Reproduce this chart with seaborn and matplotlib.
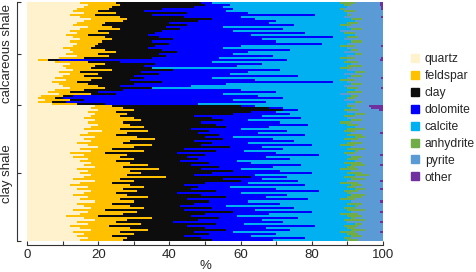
import numpy as np
import pandas as pd
import matplotlib
matplotlib.use("Agg")
import matplotlib.pyplot as plt
from matplotlib.lines import Line2D
import seaborn as sns

# right-hand edge of each mineral in every sample (cumulative %), top row first
# rows 0-50: calcareous shale, rows 51-117: clay shale
quartz_end = [
    15, 17, 16, 14, 13, 16, 12, 15, 18, 16,
    14, 13, 17, 15, 12, 14, 11, 13, 15, 12,
    14, 13, 10, 12, 13, 11, 14, 9, 3, 8,
    12, 10, 11, 13, 9, 12, 10, 8, 11, 7,
    9, 10, 12, 8, 6, 9, 4, 3, 5, 3, 7,
    19, 18, 20, 17, 19, 18, 16, 19, 17, 20,
    18, 16, 21, 17, 15, 19, 16, 18, 14, 17,
    20, 15, 18, 12, 16, 13, 17, 15, 18, 16,
    19, 14, 17, 15, 18, 16, 13, 19, 15, 12,
    17, 14, 18, 16, 13, 17, 15, 19, 14, 16,
    18, 13, 17, 15, 11, 16, 19, 14, 17, 12,
    15, 18, 13, 16, 14, 17, 15,
]
feldspar_end = [
    25, 26, 24, 23, 20, 25, 19, 26, 28, 27,
    22, 21, 24, 26, 20, 23, 17, 22, 24, 21,
    20, 19, 18, 22, 25, 20, 23, 16, 6, 17,
    22, 19, 18, 24, 15, 20, 16, 21, 18, 14,
    17, 20, 22, 16, 12, 18, 10, 8, 12, 7, 14,
    24, 27, 30, 25, 28, 26, 30, 32, 27, 29,
    33, 26, 34, 28, 25, 31, 36, 29, 27, 35,
    30, 24, 33, 22, 28, 26, 30, 25, 29, 34,
    27, 37, 29, 32, 28, 39, 26, 30, 24, 29,
    33, 27, 31, 25, 28, 34, 26, 30, 24, 29,
    33, 22, 31, 27, 20, 35, 28, 25, 32, 23,
    29, 34, 26, 30, 24, 28, 27,
]
clay_end = [
    49, 50, 47, 38, 33, 45, 35, 44, 52, 48,
    40, 45, 39, 43, 38, 36, 34, 37, 41, 35,
    40, 36, 34, 38, 42, 37, 39, 35, 9, 26,
    36, 33, 35, 41, 32, 37, 30, 33, 29, 38,
    30, 26, 35, 27, 20, 25, 13, 10, 16, 11, 22,
    60, 68, 72, 63, 58, 47, 52, 55, 49, 53,
    56, 46, 51, 48, 54, 50, 55, 47, 52, 49,
    57, 44, 53, 42, 50, 45, 48, 43, 51, 46,
    54, 49, 58, 52, 47, 63, 55, 60, 50, 44,
    48, 46, 53, 42, 49, 56, 45, 51, 47, 43,
    52, 44, 58, 50, 46, 54, 48, 41, 53, 45,
    50, 56, 47, 51, 44, 49, 52,
]
dolomite_end = [
    52, 57, 55, 58, 56, 62, 81, 60, 64, 70,
    68, 75, 55, 72, 58, 78, 63, 86, 66, 70,
    83, 60, 55, 74, 62, 58, 69, 54, 73, 52,
    66, 59, 35, 71, 62, 57, 76, 52, 64, 86,
    56, 46, 35, 60, 70, 55, 65, 72, 58, 67, 48,
    64, 72, 76, 70, 74, 66, 77, 62, 71, 79,
    68, 60, 73, 65, 78, 58, 69, 75, 62, 80,
    66, 72, 61, 70, 82, 67, 74, 59, 63, 77,
    69, 60, 71, 80, 64, 73, 66, 76, 62, 78,
    57, 70, 82, 60, 73, 67, 79, 62, 71, 56,
    75, 64, 80, 68, 59, 76, 66, 72, 61, 81,
    67, 74, 58, 70, 63, 78, 69,
]
calcite_end = [
    88, 89, 90, 88, 89, 90, 90, 89, 91, 92,
    90, 88, 90, 91, 88, 89, 92, 90, 89, 91,
    90, 88, 90, 91, 89, 92, 90, 88, 90, 89,
    91, 90, 88, 90, 92, 89, 91, 90, 88, 90,
    91, 89, 90, 92, 90, 88, 91, 90, 89, 92, 90,
    90, 91, 89, 90, 92, 89, 90, 91, 88, 90,
    92, 90, 89, 91, 90, 92, 89, 91, 90, 88,
    91, 90, 92, 89, 90, 91, 90, 92, 89, 91,
    90, 88, 91, 90, 92, 89, 91, 90, 88, 91,
    90, 92, 89, 90, 91, 90, 88, 91, 90, 92,
    89, 90, 91, 88, 90, 91, 89, 90, 92, 89,
    90, 91, 88, 90, 91, 89, 90,
]
anhydrite_end = [
    92, 91, 90, 89, 92, 90, 91, 89, 94, 92,
    93, 91, 90, 94, 88, 92, 92, 93, 89, 94,
    90, 92, 90, 93, 89, 94, 90, 92, 90, 93,
    91, 94, 91, 90, 95, 89, 94, 90, 92, 90,
    94, 89, 93, 92, 94, 88, 93, 92, 89, 94, 90,
    92, 91, 93, 90, 95, 92, 90, 94, 91, 93,
    92, 95, 92, 91, 94, 95, 93, 91, 94, 92,
    91, 95, 93, 92, 90, 94, 93, 92, 94, 95,
    92, 93, 91, 94, 96, 92, 95, 90, 93, 94,
    92, 95, 93, 91, 95, 94, 92, 91, 94, 93,
    92, 95, 91, 93, 94, 92, 95, 90, 94, 93,
    92, 95, 92, 93, 94, 91, 93,
]
pyrite_end = [
    99.2, 99.2, 99.3, 99.4, 100, 100, 100, 99.3, 100, 100,
    100, 100, 100, 100, 100, 100, 100, 100, 100, 100,
    100, 99.3, 100, 100, 100, 100, 100, 99.3, 99.2, 100,
    100, 100, 100, 100, 100, 100, 100, 99.3, 100, 100,
    100, 100, 99.3, 100, 100, 100, 100, 100, 100, 100, 100,
    96, 96.5, 99, 100, 100, 100, 100, 100, 100, 100,
    100, 100, 100, 99.2, 100, 100, 100, 100, 100, 100,
    100, 100, 100, 100, 99.2, 100, 100, 100, 100, 99.2,
    100, 100, 100, 100, 100, 100, 100, 99.2, 100, 100,
    100, 99.2, 100, 100, 100, 100, 100, 99.2, 100, 100,
    100, 100, 99.2, 100, 100, 100, 100, 99.2, 100, 100,
    100, 100, 99.2, 100, 100, 100, 100,
]
other_end = [100] * len(quartz_end)

minerals = ["quartz", "feldspar", "clay", "dolomite",
            "calcite", "anhydrite", "pyrite", "other"]
colors = ["#FFF2CC", "#FFC000", "#0D0D0D", "#0000FF",
          "#00B0F0", "#70AD47", "#5B9BD5", "#7030A0"]
n_calc = 51

ends = [quartz_end, feldspar_end, clay_end, dolomite_end,
        calcite_end, anhydrite_end, pyrite_end, other_end]
df = pd.DataFrame(dict(zip(minerals, ends)))
df["sample"] = [f"s{i}" for i in range(len(df))]
n = len(df)

sns.set_theme(style="ticks")
plt.rcParams["font.family"] = ["Liberation Sans", "DejaVu Sans"]

fig = plt.figure(figsize=(4.77, 2.72), dpi=100)
ax = fig.add_axes([27 / 477, 1 - 241 / 272, 356 / 477, 239 / 272])

# stacked bars: draw cumulative totals from the outside in
for name, col in reversed(list(zip(minerals, colors))):
    sns.barplot(data=df, x=name, y="sample", color=col, saturation=1,
                width=1.0, errorbar=None, linewidth=0, antialiased=False,
                orient="h", ax=ax)

ax.set_xlim(0, 100)
ax.set_ylim(n - 0.5, -0.5)
ax.set_xlabel("%", fontsize=9.5, labelpad=-1)
ax.set_ylabel("")

# spines first: moving a spine rebuilds the ticks
sns.despine(ax=ax)
ax.spines["left"].set_position(("outward", 7))
ax.spines["bottom"].set_position(("outward", 3))
for s in ["left", "bottom"]:
    ax.spines[s].set_color("#333333")
    ax.spines[s].set_linewidth(0.8)

ax.set_xticks(np.arange(0, 101, 20))
ax.set_xticks(np.arange(10, 100, 20), minor=True)
ax.set_yticks([-0.5, (n_calc - 1) / 2, n_calc - 0.5, (n_calc + n - 1) / 2, n - 0.5])
ax.tick_params(axis="both", which="both", direction="in", length=3,
               width=0.8, color="#333333")
ax.tick_params(axis="x", labelsize=9.5, pad=3)
ax.tick_params(axis="y", labelrotation=90, pad=3, labelsize=9.5)
ax.set_yticklabels(["", "calcareous shale", "", "clay shale", ""],
                   va="center", ha="right")

handles = [Line2D([], [], marker="s", linestyle="", markersize=5.5,
                  markerfacecolor=c, markeredgecolor=c, label=m)
           for m, c in zip(minerals, colors)]
fig.legend(handles=handles, loc="center left", bbox_to_anchor=(0.85, 0.565),
           frameon=False, fontsize=8.7, handlelength=0.8, handletextpad=0.4,
           labelspacing=0.41, borderaxespad=0)

fig.savefig("out.png", dpi=100)
